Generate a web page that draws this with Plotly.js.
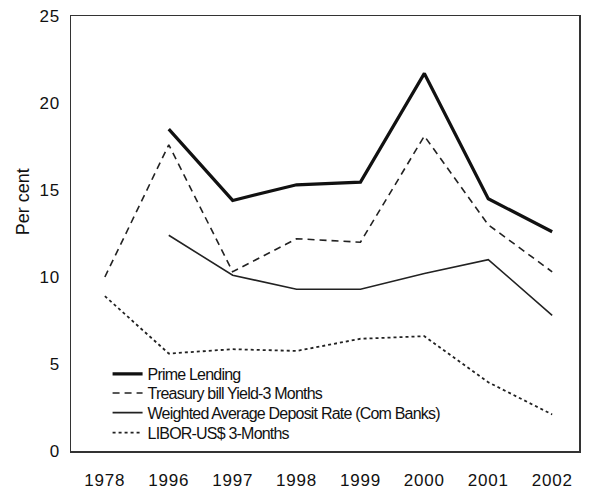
<!DOCTYPE html>
<html><head><meta charset="utf-8">
<script src="https://cdn.plot.ly/plotly-3.0.1.min.js"></script>
<style>html,body{margin:0;padding:0;background:#fff}#c{width:589px;height:491px}
#c .legendtext, #c .infolayer g[class^="legend"] text{letter-spacing:-0.8px !important}
#c .xtick text,#c .ytick text{letter-spacing:0.8px}</style>
</head><body><div id="c"></div>
<script>
const years = ['1978','1996','1997','1998','1999','2000','2001','2002'];
const primeLending = [null, 18.5, 14.4, 15.3, 15.45, 21.7, 14.5, 12.6];
const treasuryBill = [10.0, 17.6, 10.3, 12.2, 12.0, 18.1, 13.0, 10.3];
const depositRate = [null, 12.4, 10.1, 9.3, 9.3, 10.2, 11.0, 7.8];
const libor = [8.9, 5.6, 5.85, 5.75, 6.45, 6.6, 3.95, 2.1];
const seriesNames = ['Prime Lending','Treasury bill Yield-3 Months','Weighted Average Deposit Rate (Com Banks)','LIBOR-US$ 3-Months'];

const font = 'Liberation Sans, Arial, sans-serif';
const traces = [
  {x: years, y: primeLending, name: seriesNames[0], legend: 'legend', mode: 'lines', line: {color: '#111', width: 3.2}},
  {x: years, y: treasuryBill, name: seriesNames[1], legend: 'legend2', mode: 'lines', line: {color: '#222', width: 1.6, dash: '7px,5px'}},
  {x: years, y: depositRate, name: seriesNames[2], legend: 'legend3', mode: 'lines', line: {color: '#222', width: 1.6}},
  {x: years, y: libor, name: seriesNames[3], legend: 'legend4', mode: 'lines', line: {color: '#222', width: 1.8, dash: 'dot'}}
];
function leg(y) {
  return {x: 0.072, y: y, xanchor: 'left', yanchor: 'middle', bgcolor: 'rgba(0,0,0,0)',
    font: {family: font, size: 16, color: '#111'}};
}
const layout = {
  width: 589, height: 491,
  margin: {l: 71, r: 10, t: 16, b: 40},
  paper_bgcolor: '#fff', plot_bgcolor: '#fff',
  showlegend: true,
  legend: leg(0.177), legend2: leg(0.133), legend3: leg(0.088), legend4: leg(0.042),
  xaxis: {type: 'category', range: [-0.53, 7.42], showgrid: false, zeroline: false,
    showline: true, mirror: true, linecolor: '#333', linewidth: 1.5,
    ticks: 'outside', ticklen: 13, tickcolor: 'rgba(0,0,0,0)',
    tickfont: {family: font, size: 17, color: '#111'}},
  yaxis: {range: [0, 25], tickvals: [0,5,10,15,20,25], showgrid: false, zeroline: false,
    showline: true, mirror: true, linecolor: '#333', linewidth: 1.5,
    ticks: 'outside', ticklen: 6, tickcolor: 'rgba(0,0,0,0)',
    tickfont: {family: font, size: 17, color: '#111'}},
  annotations: [{text: 'Per cent', xref: 'paper', yref: 'paper', x: -0.118, y: 0.572,
    textangle: -90, showarrow: false, font: {family: font, size: 18, color: '#111'}}]
};
Plotly.newPlot('c', traces, layout, {staticPlot: true, displayModeBar: false});
</script></body></html>
